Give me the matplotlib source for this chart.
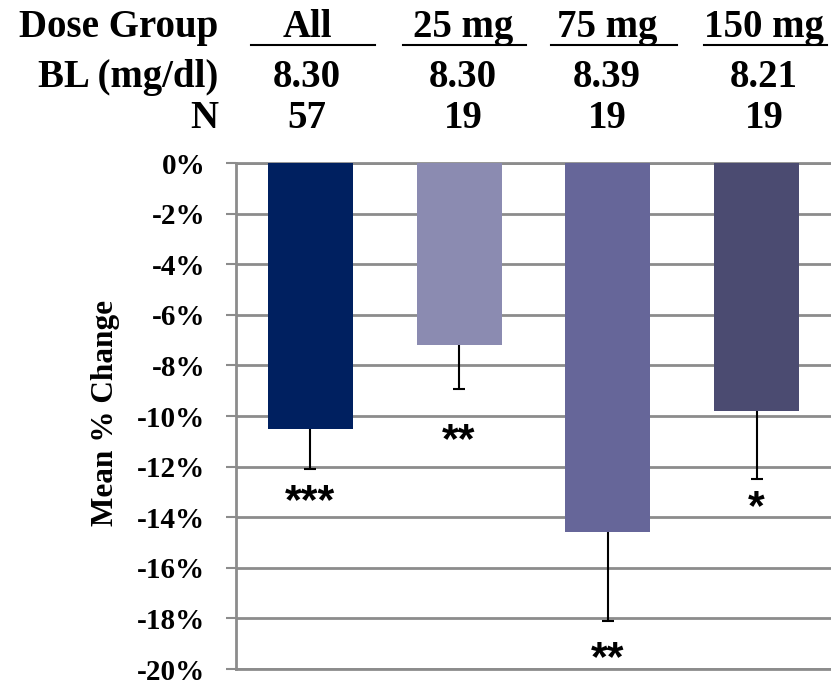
import matplotlib
matplotlib.use('Agg')
import matplotlib.pyplot as plt
import numpy as np

# Data
groups = ['All', '25 mg', '75 mg', '150 mg']
baseline = ['8.30', '8.30', '8.39', '8.21']
n_subjects = ['57', '19', '19', '19']
mean_change = [-10.5, -7.2, -14.6, -9.8]
err_lower = [1.6, 1.75, 3.5, 2.7]
stars = ['***', '**', '**', '*']
star_y = [-13.4, -11.0, -19.6, -13.65]
y_ticks = [0, -2, -4, -6, -8, -10, -12, -14, -16, -18, -20]

colors = ['#002060', '#8B8BB1', '#666699', '#4B4B71']
grid_color = '#8C8C8C'
serif = ['Liberation Serif', 'DejaVu Serif']

W, H = 831, 683
fig = plt.figure(figsize=(W / 100, H / 100), dpi=100)
ax = fig.add_axes([236 / W, 1 - 669 / H, 1 - 236 / W, (669 - 163) / H])

x = np.arange(len(groups))
vals = np.array(mean_change)
ax.bar(x, vals, width=0.57, color=colors, zorder=3)

eb = ax.errorbar(x, vals, yerr=[err_lower, np.zeros(len(vals))], fmt='none',
                 ecolor='black', elinewidth=1.5, capsize=4.3, capthick=1.5, zorder=2)
# keep only the lower caps
for cl in eb[1]:
    if np.allclose(cl.get_ydata(), vals):
        cl.set_visible(False)

for xi, s, sy in zip(x, stars, star_y):
    ax.text(xi, sy, s, ha='center', va='center', fontsize=31, fontweight='bold',
            family=['Liberation Sans', 'DejaVu Sans'], zorder=4)

ax.set_xlim(-0.5, 3.5)
ax.set_ylim(-20, 0)
ax.set_yticks(y_ticks)
ax.set_yticklabels([f'{t}%' for t in y_ticks], fontsize=21, fontweight='bold', family=serif)
ax.set_xticks([])

ax.yaxis.grid(True, color=grid_color, linewidth=2, zorder=0)
ax.set_axisbelow(True)
ax.spines['right'].set_visible(False)
for side in ['left', 'top', 'bottom']:
    ax.spines[side].set_color(grid_color)
    ax.spines[side].set_linewidth(2)
ax.tick_params(axis='y', direction='out', length=7.2, width=1.5, color=grid_color, pad=15)

fig.text(105 / W, 1 - 413 / H, 'Mean % Change', rotation=90, ha='center', va='center',
         fontsize=22.5, fontweight='bold', family=serif)

# header table above the plot
col_x = [307, 463, 607, 764]
row_y = [37, 87, 128]
underline_x = [(251, 375), (403, 526), (551, 677), (704, 827)]
hdr_kw = dict(fontsize=28, fontweight='bold', family=serif, va='baseline')
for ry, lab in zip(row_y, ['Dose Group', 'BL (mg/dl)', 'N']):
    fig.text(218 / W, 1 - ry / H, lab, ha='right', **hdr_kw)
for cx, (u0, u1), g, b, n in zip(col_x, underline_x, groups, baseline, n_subjects):
    for ry, t in zip(row_y, [g, b, n]):
        fig.text(cx / W, 1 - ry / H, t, ha='center', **hdr_kw)
    fig.add_artist(plt.Line2D([u0 / W, u1 / W], [1 - 45 / H, 1 - 45 / H],
                              color='black', linewidth=1.5))

fig.savefig('out.png', dpi=100)
